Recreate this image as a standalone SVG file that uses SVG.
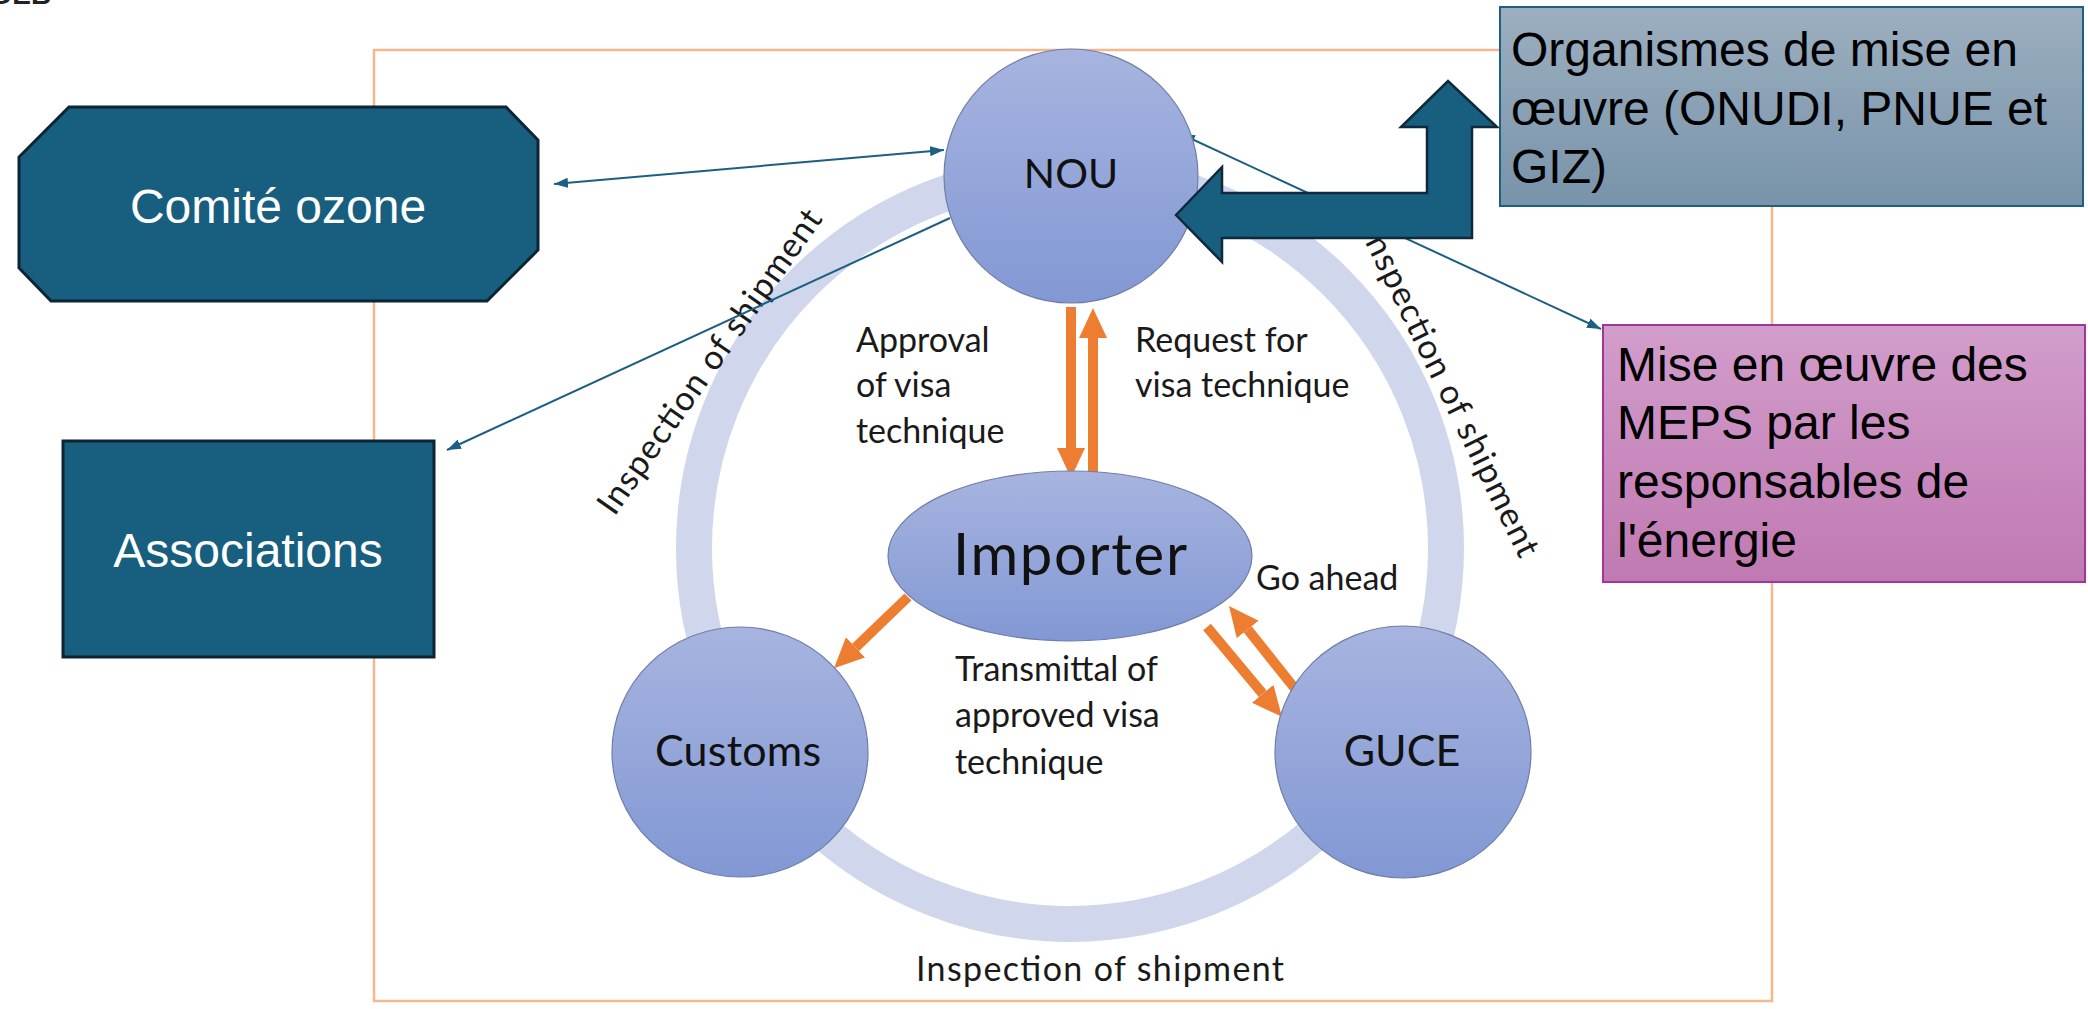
<svg xmlns="http://www.w3.org/2000/svg" width="2088" height="1009" viewBox="0 0 2088 1009">
<style>
.box{font-family:"Liberation Sans",Arial,sans-serif;font-size:48px}
.w{fill:#ffffff}
.k{fill:#000000}
.lbl{font-family:Lato,"Open Sans",sans-serif;font-size:34px;fill:#1a1a1a}
.node{font-family:Lato,"Open Sans",sans-serif;fill:#111111}
.circ{fill:url(#gC);stroke:#6e7ea8;stroke-width:1.2}
.oa{stroke:#ed7d31;stroke-width:10;fill:none;marker-end:url(#oh)}
.ba{stroke:#1b5f82;stroke-width:2;fill:none}
</style>
<defs>
<linearGradient id="gC" x1="0" y1="0" x2="0" y2="1"><stop offset="0" stop-color="#a7b4df"/><stop offset="1" stop-color="#8298d4"/></linearGradient>
<linearGradient id="gO" x1="0" y1="0" x2="0" y2="1"><stop offset="0" stop-color="#9cafc0"/><stop offset="1" stop-color="#7893aa"/></linearGradient>
<linearGradient id="gM" x1="0" y1="0" x2="0" y2="1"><stop offset="0" stop-color="#d29dcb"/><stop offset="1" stop-color="#c079b2"/></linearGradient>
<marker id="oh" markerUnits="userSpaceOnUse" markerWidth="30" markerHeight="28" refX="0" refY="14" orient="auto"><path d="M0,0 L30,14 L0,28 z" fill="#ed7d31"/></marker>
<marker id="bh" markerUnits="userSpaceOnUse" markerWidth="14" markerHeight="10" refX="14" refY="5" orient="auto-start-reverse"><path d="M0,0 L14,5 L0,10 z" fill="#1b5f82"/></marker>
</defs>
<rect width="2088" height="1009" fill="#ffffff"/>
<text x="-8" y="4" font-family="Liberation Sans,Arial,sans-serif" font-weight="bold" font-size="28" fill="#222">DEB</text>

<!-- frame -->
<rect x="374" y="50" width="1398" height="951" fill="none" stroke="#f5b88e" stroke-width="2.5"/>

<!-- ring -->
<circle cx="1070" cy="548" r="376" fill="none" stroke="#d0d7ec" stroke-width="36"/>

<!-- ring labels -->
<g id="inspection-labels" class="lbl">
<text transform="translate(719,368) rotate(-55)" text-anchor="middle" textLength="364">Inspection of shipment</text>
<text transform="translate(1440,396) rotate(64)" text-anchor="middle" textLength="364">Inspection of shipment</text>
<text x="1100" y="981" text-anchor="middle" textLength="368">Inspection of shipment</text>
</g>

<!-- connectors -->
<g id="connectors">
<line class="ba" x1="554" y1="184" x2="944" y2="150" marker-start="url(#bh)" marker-end="url(#bh)"/>
<line class="ba" x1="950" y1="218" x2="447" y2="450" marker-end="url(#bh)"/>
<line class="ba" x1="1181" y1="134" x2="1601" y2="329" marker-start="url(#bh)" marker-end="url(#bh)"/>
<line class="oa" x1="1071" y1="307" x2="1071" y2="448"/>
<line class="oa" x1="1093" y1="472" x2="1093" y2="338"/>
<line class="oa" x1="908" y1="597" x2="855.6" y2="647.4"/>
<line class="oa" x1="1207" y1="627" x2="1262.7" y2="693.8"/>
<line class="oa" x1="1296" y1="690" x2="1247.7" y2="629.4"/>
</g>

<!-- nodes -->
<g id="nou"><ellipse class="circ" cx="1071" cy="176" rx="127" ry="127"/><text class="node" x="1071" y="188" font-size="41" text-anchor="middle">NOU</text></g>
<g id="importer"><ellipse class="circ" cx="1070" cy="556" rx="182" ry="85"/><text class="node" x="1070" y="575" font-size="58" text-anchor="middle" textLength="234">Importer</text></g>
<g id="customs"><ellipse class="circ" cx="740" cy="752" rx="128" ry="125"/><text class="node" x="738" y="766" font-size="43" text-anchor="middle" textLength="166">Customs</text></g>
<g id="guce"><ellipse class="circ" cx="1403" cy="752" rx="128" ry="126"/><text class="node" x="1402" y="766" font-size="43" text-anchor="middle">GUCE</text></g>

<g id="flow-labels" class="lbl">
<text x="856" y="352">Approval</text>
<text x="856" y="397">of visa</text>
<text x="856" y="443">technique</text>
<text x="1135" y="352">Request for</text>
<text x="1135" y="397">visa technique</text>
<text x="1256" y="590">Go ahead</text>
<text x="955" y="681">Transmittal of</text>
<text x="955" y="727">approved visa</text>
<text x="955" y="774">technique</text>
</g>

<!-- big bent arrow -->
<g id="big-arrow">
<polygon points="1176,215 1222,167 1222,193 1427,193 1427,127 1401,127 1448,81 1497,127 1472,127 1472,238 1222,238 1222,262" fill="#175e7f" stroke="#0e2a3a" stroke-width="2.5" stroke-linejoin="miter"/>
</g>

<g id="comite-ozone">
<polygon points="69,107 506,107 538,140 538,250 487,301 51,301 19,268 19,157" fill="#175e7f" stroke="#0c2533" stroke-width="3"/>
<text class="box w" x="278" y="223" text-anchor="middle">Comité ozone</text>
</g>
<g id="associations">
<rect x="63" y="441" width="371" height="216" fill="#175e7f" stroke="#0c2533" stroke-width="3"/>
<text class="box w" x="248" y="567" text-anchor="middle">Associations</text>
</g>
<g id="organismes">
<rect x="1500" y="7" width="583" height="199" fill="url(#gO)" stroke="#1f5f80" stroke-width="2"/>
<text class="box k" x="1511" y="66">Organismes de mise en</text>
<text class="box k" x="1511" y="125">œuvre (ONUDI, PNUE et</text>
<text class="box k" x="1511" y="183">GIZ)</text>
</g>
<g id="meps">
<rect x="1603" y="325" width="482" height="257" fill="url(#gM)" stroke="#a0359b" stroke-width="2"/>
<text class="box k" x="1617" y="381">Mise en œuvre des</text>
<text class="box k" x="1617" y="439">MEPS par les</text>
<text class="box k" x="1617" y="498">responsables de</text>
<text class="box k" x="1617" y="557">l'énergie</text>
</g>
</svg>
